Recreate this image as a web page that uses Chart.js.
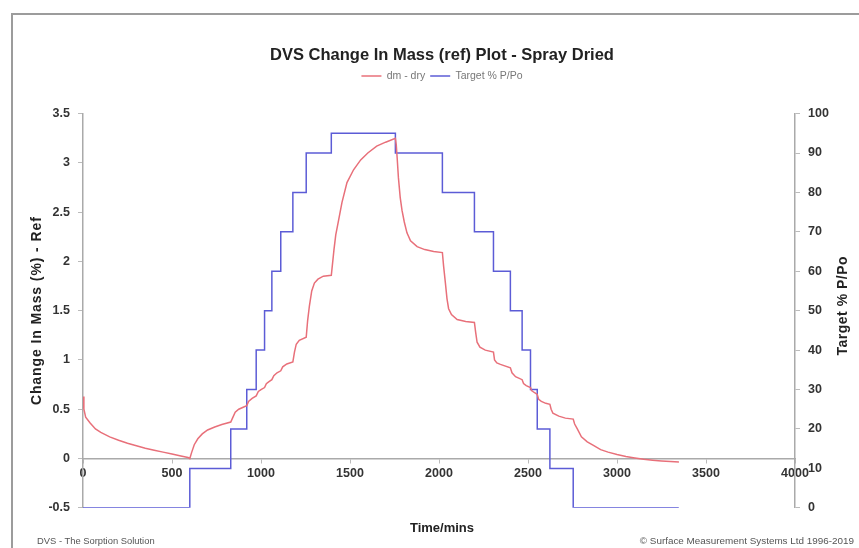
<!DOCTYPE html>
<html><head><meta charset="utf-8">
<script src="https://cdn.jsdelivr.net/npm/chart.js@4"></script>
<style>
html,body{margin:0;padding:0;background:#fff;width:859px;height:548px;overflow:hidden;font-family:"Liberation Sans",Arial,sans-serif;}
#wrap{position:relative;width:859px;height:548px;}
#frame{position:absolute;left:11px;top:13px;width:900px;height:600px;border-left:2px solid #9c9c9c;border-top:2px solid #9c9c9c;}
canvas{position:absolute;left:0;top:0;}
.foot{position:absolute;top:535px;color:#555;white-space:nowrap;}
</style></head><body>
<div id="wrap"><div id="frame"></div><canvas id="c" width="859" height="548"></canvas>
<div class="foot" style="left:37px;font-size:9.4px">DVS - The Sorption Solution</div>
<div class="foot" style="right:5px;font-size:9.9px">© Surface Measurement Systems Ltd 1996-2019</div></div>
<script>
// Change in mass (%) - ref, dm - dry
const massTime = [0,5,15,40,70,100,150,200,250,300,350,400,450,500,550,590,600,
 610,625,645,670,700,740,780,830,840,855,875,900,920,930,950,973,985,1000,1020,
 1030,1045,1061,1072,1090,1111,1122,1145,1179,1188,1198,1215,1254,1262,1272,1285,
 1300,1320,1350,1395,1402,1410,1420,1436,1455,1483,1520,1560,1600,1650,1700,1755,
 1760,1765,1772,1782,1792,1805,1820,1840,1877,1920,1970,2019,2026,2036,2045,2054,
 2070,2102,2150,2199,2206,2214,2230,2260,2306,2312,2325,2345,2401,2410,2430,2467,
 2475,2490,2514,2520,2535,2552,2560,2575,2600,2623,2630,2640,2673,2710,2754,2762,
 2777,2800,2833,2870,2908,2950,3000,3050,3100,3150,3200,3250,3300,3348];
const massChange = [0.63,0.5,0.42,0.36,0.30,0.265,0.22,0.185,0.155,0.13,0.105,0.085,0.065,0.045,0.025,0.01,0.0,
 0.06,0.14,0.2,0.25,0.29,0.32,0.345,0.37,0.41,0.47,0.5,0.52,0.535,0.58,0.61,0.635,0.68,0.7,0.72,
 0.76,0.78,0.8,0.84,0.87,0.89,0.93,0.96,0.98,1.08,1.16,1.2,1.23,1.4,1.55,1.7,
 1.78,1.82,1.85,1.86,1.98,2.12,2.27,2.42,2.6,2.8,2.93,3.03,3.1,3.17,3.21,3.25,
 3.18,3.05,2.85,2.65,2.52,2.4,2.29,2.21,2.15,2.12,2.1,2.09,1.95,1.78,1.62,1.52,
 1.46,1.41,1.39,1.38,1.28,1.18,1.13,1.1,1.08,1.0,0.97,0.955,0.92,0.87,0.83,0.8,
 0.76,0.74,0.72,0.69,0.67,0.65,0.6,0.58,0.56,0.55,0.5,0.46,0.43,0.41,0.40,0.35,
 0.3,0.22,0.17,0.13,0.09,0.065,0.04,0.02,0.005,-0.008,-0.017,-0.024,-0.03,-0.035];
// Target % P/Po (step changes: time the new level starts)
const targetTime = [0,600,830,920,973,1020,1061,1111,1179,1254,1395,1755,2019,2199,2306,2401,2467,2514,2552,2623,2754,3347];
const targetRH   = [0,10,20,30,40,50,60,70,80,90,95,90,80,70,60,50,40,30,20,10,0,0];
const xTickStep = 500, yLeftStep = 0.5, yRightStep = 10;
const leftTitle = 'Change In Mass (%) - Ref';
const rightTitle = 'Target % P/Po';

const legendExtra = 22.3;
const legendSpacer = {
  id:'legendSpacer',
  beforeLayout(chart){
    const lg = chart.legend;
    if (lg && !lg._patched){
      const f = lg.fit.bind(lg);
      lg.fit = function(){ f(); this.height += legendExtra; };
      lg._patched = true;
    }
  }
};
const axisTitles = {
  id:'axisTitles',
  afterDraw(chart){
    const ctx = chart.ctx, a = chart.chartArea;
    ctx.save();
    ctx.fillStyle = '#222';
    ctx.font = 'bold 14px "Liberation Sans", Arial, sans-serif';
    ctx.textAlign = 'center'; ctx.textBaseline = 'middle';
    ctx.save();
    ctx.translate(37, (a.top + a.bottom) / 2);
    ctx.rotate(-Math.PI / 2);
    ctx.letterSpacing = '0.9px';
    ctx.fillText(leftTitle, 0, 0);
    ctx.restore();
    ctx.save();
    ctx.translate(843, (a.top + a.bottom) / 2 - 5);
    ctx.rotate(-Math.PI / 2);
    ctx.letterSpacing = '0.5px';
    ctx.fillText(rightTitle, 0, 0);
    ctx.restore();
    ctx.restore();
  }
};
const tickFont = {family:'"Liberation Sans", Arial, sans-serif', size:12.5, weight:'bold'};
new Chart(document.getElementById('c'), {
  type:'line',
  data:{datasets:[
    {label:'dm - dry', data: massTime.map((t,i)=>({x:t,y:massChange[i]})), yAxisID:'y',
     borderColor:'#e8707a', backgroundColor:'#e8707a', borderWidth:1.5, pointRadius:0, tension:0},
    {label:'Target % P/Po', data: targetTime.map((t,i)=>({x:t,y:targetRH[i]})), yAxisID:'y1',
     borderColor:'#5c5cd6', backgroundColor:'#5c5cd6', borderWidth:1.5, pointRadius:0, stepped:true}
  ]},
  options:{
    responsive:false, animation:false, devicePixelRatio:1,
    layout:{padding:{left:25,right:0,top:30,bottom:11.8}},
    plugins:{
      title:{display:true, text:'DVS Change In Mass (ref) Plot - Spray Dried', color:'#222',
        font:{family:'"Liberation Sans", Arial, sans-serif', size:16.5, weight:'bold'}, padding:{top:16,bottom:0}},
      legend:{display:true, position:'top',
        labels:{usePointStyle:true, pointStyle:'line', pointStyleWidth:20, color:'#777', padding:5,
          font:{family:'"Liberation Sans", Arial, sans-serif', size:10.5}}},
      subtitle:{display:true, position:'bottom', text:'Time/mins', color:'#222',
        font:{family:'"Liberation Sans", Arial, sans-serif', size:13, weight:'bold'}, padding:{top:12.8,bottom:0}},
      tooltip:{enabled:false}
    },
    scales:{
      x:{type:'linear', min:0, max:4000, position:{y:0},
        ticks:{stepSize:xTickStep, color:'#333', font:tickFont, padding:4, maxRotation:0, autoSkip:false,
          callback:(v)=>String(v)},
        grid:{drawOnChartArea:false, drawTicks:true, tickLength:4, color:'#bbb'},
        border:{display:true, color:'#aaa', width:1.5}},
      y:{type:'linear', position:'left', min:-0.5, max:3.5,
        ticks:{stepSize:yLeftStep, color:'#333', font:tickFont, padding:8,
          callback:(v)=>String(Math.round(v*10)/10)},
        grid:{drawOnChartArea:false, drawTicks:true, tickLength:5, color:'#bbb'},
        border:{display:true, color:'#aaa', width:1.5},
        afterFit(s){ s.width = 58; }},
      y1:{type:'linear', position:'right', min:0, max:100,
        ticks:{stepSize:yRightStep, color:'#333', font:tickFont, padding:8,
          callback:(v)=>String(v)},
        grid:{drawOnChartArea:false, drawTicks:true, tickLength:5, color:'#bbb'},
        border:{display:true, color:'#aaa', width:1.5},
        afterFit(s){ s.width = 64; }}
    }
  },
  plugins:[legendSpacer, axisTitles]
});
</script>
</body></html>
